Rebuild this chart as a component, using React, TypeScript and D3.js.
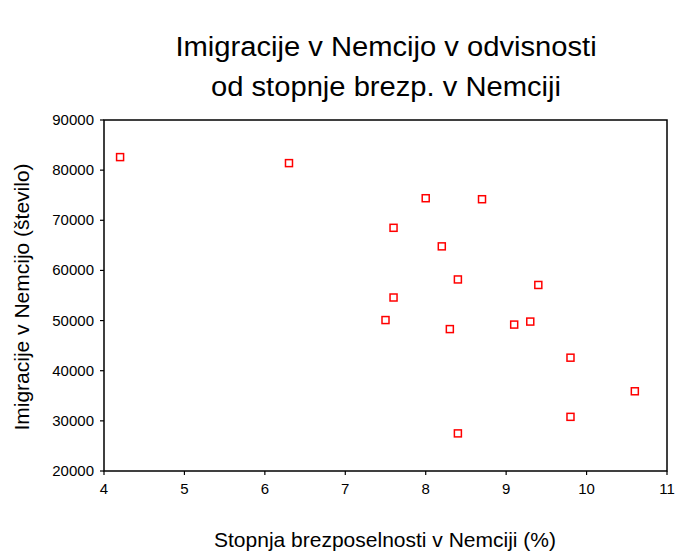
import React from "react";
import * as d3 from "d3";

const unemployment = [4.2, 6.3, 8.0, 8.7, 7.6, 8.2, 8.4, 9.4, 7.6, 7.5, 8.3, 9.1, 9.3, 9.8, 10.6, 9.8, 8.4];
const immigration = [82600, 81400, 74400, 74200, 68500, 64800, 58200, 57100, 54600, 50100, 48300, 49200, 49800, 42600, 35900, 30800, 27500];
const xTicks = [4, 5, 6, 7, 8, 9, 10, 11];
const yTicks = [20000, 30000, 40000, 50000, 60000, 70000, 80000, 90000];
const titleLines = ["Imigracije v Nemcijo v odvisnosti", "od stopnje brezp. v Nemciji"];
const xLabel = "Stopnja brezposelnosti v Nemciji (%)";
const yLabel = "Imigracije v Nemcijo (število)";

const W = 678, H = 554;
const L = 104, R = 667, T = 120, B = 471;
const FONT = "'Liberation Sans', Arial, sans-serif";

export default function App() {
  const x = d3.scaleLinear().domain([4, 11]).range([L, R]);
  const y = d3.scaleLinear().domain([20000, 90000]).range([B, T]);
  const s = 7;
  return (
    <svg width={W} height={H} style={{ position: "absolute", left: 0, top: 0, background: "#fff" }} fontFamily={FONT}>
      <rect x={0} y={0} width={W} height={H} fill="#fff" />
      {titleLines.map((t, i) => (
        <text key={t} transform={`translate(386,${56 + i * 40}) scale(1.08,1)`} textAnchor="middle" fontSize={27} fill="#000">{t}</text>
      ))}
      <rect x={L} y={T} width={R - L} height={B - T} fill="none" stroke="#000" strokeWidth={1.5} />
      {xTicks.map((t) => (
        <g key={t}>
          <line x1={x(t)} x2={x(t)} y1={B} y2={B + 4} stroke="#000" strokeWidth={1.2} />
          <text x={x(t)} y={B + 23} textAnchor="middle" fontSize={15} fill="#000">{t}</text>
        </g>
      ))}
      {yTicks.map((t) => (
        <g key={t}>
          <line x1={L - 4} x2={L} y1={y(t)} y2={y(t)} stroke="#000" strokeWidth={1.2} />
          <text x={L - 10} y={y(t) + 5} textAnchor="end" fontSize={15} fill="#000">{t}</text>
        </g>
      ))}
      {unemployment.map((u, i) => (
        <rect key={i} x={x(u) - s / 2} y={y(immigration[i]) - s / 2} width={s} height={s} fill="#fff" stroke="#ff0000" strokeWidth={1.5} />
      ))}
      <text x={385} y={547} textAnchor="middle" fontSize={21} fill="#000">{xLabel}</text>
      <text transform={`translate(29,297) rotate(-90)`} textAnchor="middle" fontSize={21} fill="#000">{yLabel}</text>
    </svg>
  );
}
